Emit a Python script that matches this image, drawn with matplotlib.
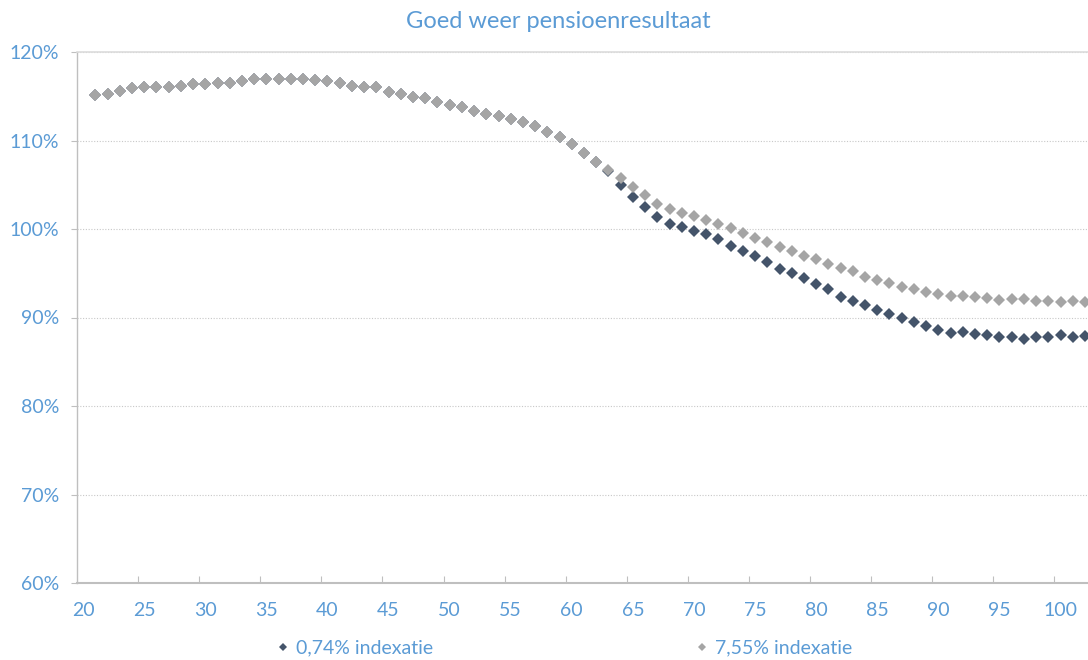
import matplotlib
matplotlib.use('Agg')
import matplotlib.pyplot as plt
from matplotlib.ticker import PercentFormatter, FixedLocator

ages = list(range(21, 103))

# 0,74% indexatie
low_index = [115.1, 115.3, 115.6, 115.9, 116.0, 116.1, 116.1, 116.2, 116.35, 116.4,
             116.5, 116.55, 116.7, 116.95, 117.0, 116.95, 116.95, 116.95, 116.85, 116.7,
             116.55, 116.2, 116.0, 116.0, 115.5, 115.25, 114.95, 114.85, 114.3, 114.0,
             113.8, 113.35, 113.0, 112.75, 112.45, 112.1, 111.6, 111.0, 110.4, 109.6,
             108.6, 107.6, 106.6, 105.0, 103.65, 102.45, 101.3, 100.55, 100.25, 99.8,
             99.45, 98.85, 98.1, 97.55, 96.9, 96.3, 95.45, 95.0, 94.45, 93.8,
             93.2, 92.35, 91.9, 91.4, 90.9, 90.4, 90.0, 89.5, 89.05, 88.6,
             88.3, 88.4, 88.15, 88.0, 87.75, 87.75, 87.55, 87.8, 87.75, 88.0,
             87.8, 87.9]

# 7,55% indexatie
high_index = [115.1, 115.3, 115.6, 115.9, 116.0, 116.1, 116.1, 116.2, 116.35, 116.4,
              116.5, 116.55, 116.7, 116.95, 117.0, 116.95, 116.95, 116.95, 116.85, 116.7,
              116.55, 116.2, 116.0, 116.0, 115.5, 115.25, 114.95, 114.85, 114.3, 114.0,
              113.8, 113.35, 113.0, 112.75, 112.45, 112.1, 111.6, 111.0, 110.4, 109.6,
              108.6, 107.6, 106.7, 105.8, 104.8, 103.8, 102.8, 102.3, 101.85, 101.45,
              101.0, 100.6, 100.1, 99.5, 99.0, 98.55, 98.0, 97.55, 96.9, 96.6,
              96.1, 95.55, 95.2, 94.55, 94.25, 93.85, 93.5, 93.2, 92.85, 92.65,
              92.45, 92.45, 92.35, 92.15, 92.0, 92.05, 92.05, 91.9, 91.9, 91.8,
              91.9, 91.7]

labels = ['0,74% indexatie', '7,55% indexatie']
x_labels = list(range(20, 101, 5))
y_ticks = [60, 70, 80, 90, 100, 110, 120]

blue = '#5b9bd5'
axis_grey = '#bfbfbf'

plt.rcParams['font.family'] = ['Lato', 'DejaVu Sans']

fig = plt.figure(figsize=(10.88, 6.6), dpi=100)
ax = fig.add_axes([77 / 1088, 1 - 583 / 660, 1 - 77 / 1088, (583 - 52) / 660])

ax.plot(ages, low_index, linestyle='none', marker='D', markersize=6,
        color='#44546a', mew=0, label=labels[0], zorder=3)
ax.plot(ages, high_index, linestyle='none', marker='D', markersize=6,
        color='#a5a5a5', mew=0, label=labels[1], zorder=4)

ax.set_xlim(19.5, 102.25)
ax.set_ylim(60, 120)

ax.set_yticks(y_ticks)
ax.yaxis.set_major_formatter(PercentFormatter(decimals=0))
ax.set_xticks(x_labels)
ax.set_xticklabels([str(v) for v in x_labels])
ax.xaxis.set_minor_locator(FixedLocator([v - 0.5 for v in x_labels[1:]]))

ax.tick_params(axis='x', which='major', length=0, pad=13.5, labelsize=14, labelcolor=blue)
ax.tick_params(axis='x', which='minor', direction='in', length=5, width=0.8, color=axis_grey)
ax.tick_params(axis='y', which='major', direction='out', length=4, width=0.8, color=axis_grey,
               pad=9, labelsize=14, labelcolor=blue)

ax.grid(axis='y', linestyle=(0, (1, 1.5)), color='#c8c8c8', linewidth=0.8)
ax.set_axisbelow(True)

ax.spines['right'].set_visible(False)
ax.spines['top'].set_color('#dcdcdc')
ax.spines['top'].set_linewidth(1.2)
ax.spines['left'].set_color(axis_grey)
ax.spines['left'].set_linewidth(1.0)
ax.spines['bottom'].set_color(axis_grey)
ax.spines['bottom'].set_linewidth(1.5)

fig.text(558 / 1088, 1 - 22 / 660, 'Goed weer pensioenresultaat', ha='center', va='center',
         fontsize=17, color=blue)

leg = fig.legend(loc='center', bbox_to_anchor=(564 / 1088, 1 - 648 / 660), ncol=2,
                 frameon=False, fontsize=14, markerscale=0.75, handlelength=0.7,
                 handletextpad=0.3, columnspacing=13.5)
for t in leg.get_texts():
    t.set_color(blue)

fig.savefig('out.png', dpi=100)
